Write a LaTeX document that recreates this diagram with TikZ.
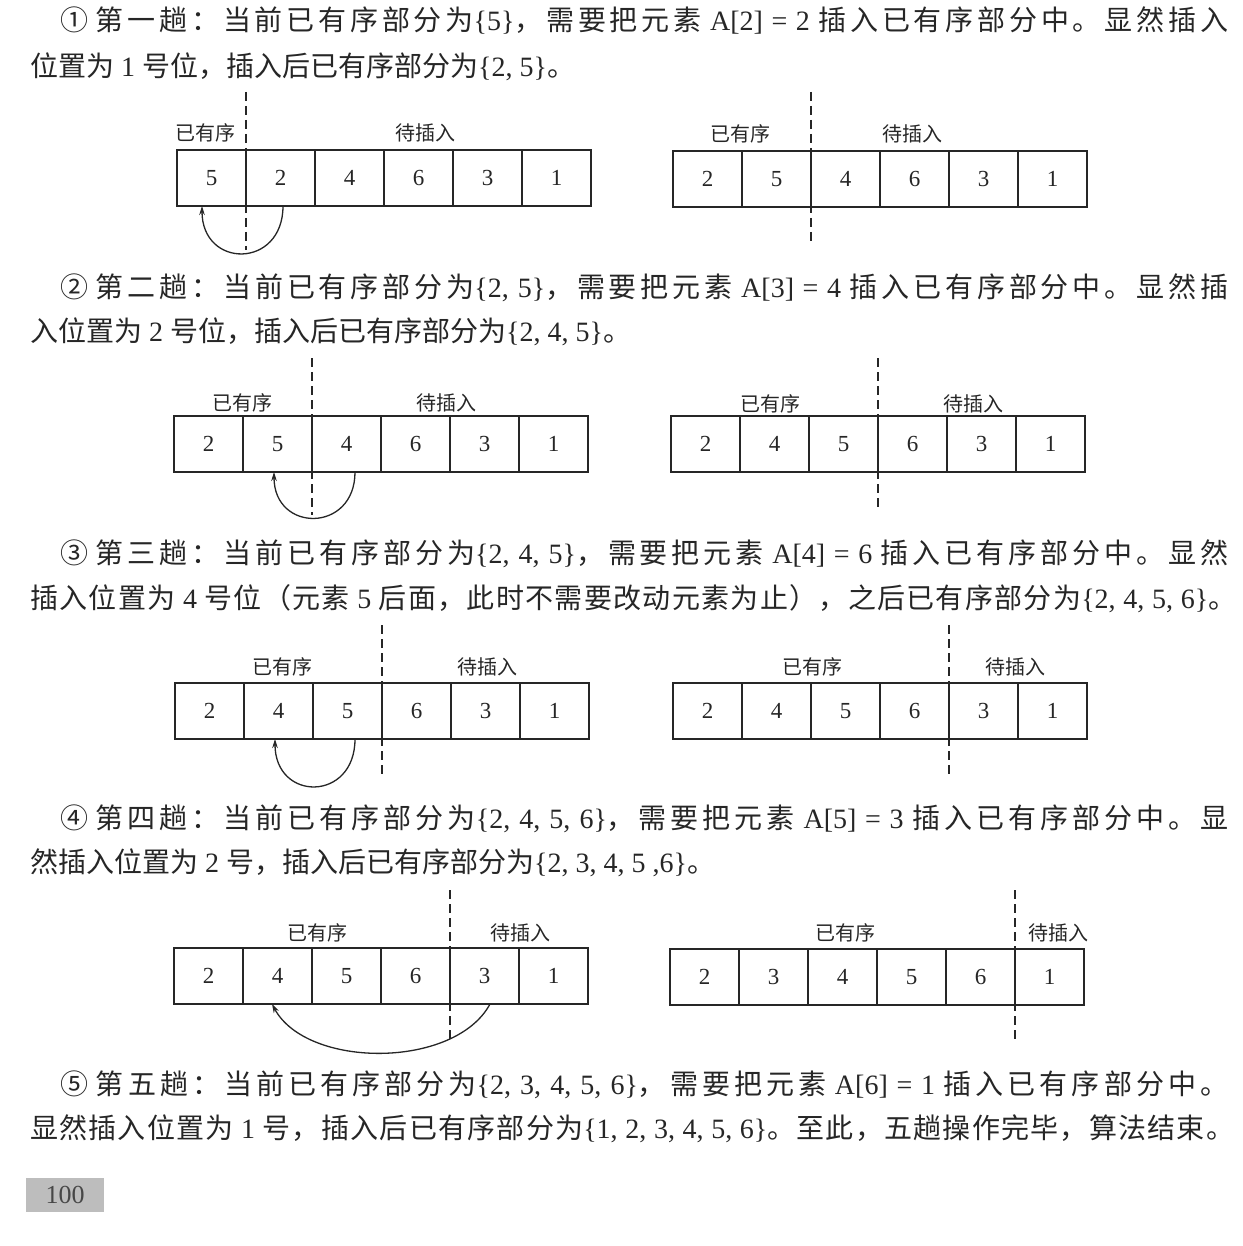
\documentclass[tikz,border=0pt]{standalone}
\usepackage{fontspec}
\setmainfont{Liberation Serif}
\newfontfamily\cj{Noto Sans CJK SC}
\usetikzlibrary{arrows.meta}
\definecolor{ink}{HTML}{262626}
\definecolor{pagegray}{HTML}{BDBDBD}
% inter-character glue for CJK so that lines can be justified
\newcount\cjcnt
\def\setcjrange#1#2{\cjcnt=#1\relax\loop\XeTeXcharclass\cjcnt=7\relax\ifnum\cjcnt<#2\relax\advance\cjcnt by 1\relax\repeat}
\setcjrange{"4E00}{"9FFF}
\setcjrange{"3000}{"303F}
\setcjrange{"FF00}{"FFEF}
\setcjrange{"2460}{"2473}
\XeTeXinterchartoks 7 7 = {\hskip 0pt plus 0.3em minus 0.03em\relax}
\XeTeXinterchartokenstate=1
\newcommand\LT[1]{{\rmfamily#1}}
\newcommand\cellrow[4]{%
  \foreach \v [count=\i] in {#4} {\node[cell] (#1-\i) at ({#2+69*\i-34.5},{#3+28}) {\v};}}
\begin{document}
\begin{tikzpicture}[x=1pt,y=-1pt,
  txt/.style={font=\cj\fontsize{28}{28}\selectfont, text=ink, inner sep=0pt, anchor=base west},
  cell/.style={draw=ink, line width=1.3pt, minimum width=69pt, minimum height=56pt, inner sep=0pt, outer sep=0pt, text=ink, font=\rmfamily\fontsize{23}{23}\selectfont},
  lab/.style={font=\cj\fontsize{20}{20}\selectfont, text=ink, inner sep=0pt},
  divider/.style={draw=ink, line width=1.3pt, dash pattern=on 9pt off 5pt},
  arcarrow/.style={draw=ink, line width=1.3pt, -{Stealth[length=9pt,width=5.5pt]}},
  pagenum/.style={fill=pagegray, minimum width=78pt, minimum height=34pt, inner sep=0pt, text=ink!85, font=\rmfamily\fontsize{26}{26}\selectfont}]
\fill[white] (0,0) rectangle (1242,1246);
\useasboundingbox (0,0) rectangle (1242,1246);

% ---------- text lines ----------
\node[txt] (t1) at (60,30.5) {\hbox to 1168pt{① 第一趟：当前已有序部分为\LT{\{5\}}，需要把元素\LT{ A[2] = 2 }插入已有序部分中。显然插入}};
\node[txt] (t2) at (30,76.5) {位置为\LT{ 1 }号位，插入后已有序部分为\LT{\{2, 5\}}。};
\node[txt] (t3) at (60,297.5) {\hbox to 1168pt{② 第二趟：当前已有序部分为\LT{\{2, 5\}}，需要把元素\LT{ A[3] = 4 }插入已有序部分中。显然插}};
\node[txt] (t4) at (30,341.5) {入位置为\LT{ 2 }号位，插入后已有序部分为\LT{\{2, 4, 5\}}。};
\node[txt] (t5) at (60,563.5) {\hbox to 1168pt{③ 第三趟：当前已有序部分为\LT{\{2, 4, 5\}}，需要把元素\LT{ A[4] = 6 }插入已有序部分中。显然}};
\node[txt] (t6) at (30,608.5) {\hbox to 1206pt{插入位置为\LT{ 4 }号位（元素\LT{ 5 }后面，此时不需要改动元素为止），之后已有序部分为\LT{\{2, 4, 5, 6\}}。}};
\node[txt] (t7) at (60,828.5) {\hbox to 1168pt{④ 第四趟：当前已有序部分为\LT{\{2, 4, 5, 6\}}，需要把元素\LT{ A[5] = 3 }插入已有序部分中。显}};
\node[txt] (t8) at (30,872.5) {然插入位置为\LT{ 2 }号，插入后已有序部分为\LT{\{2, 3, 4, 5 ,6\}}。};
\node[txt] (t9) at (60,1094.5) {\hbox to 1168pt{⑤ 第五趟：当前已有序部分为\LT{\{2, 3, 4, 5, 6\}}，需要把元素\LT{ A[6] = 1 }插入已有序部分中。}};
\node[txt] (t10) at (30,1138.5) {\hbox to 1204pt{显然插入位置为\LT{ 1 }号，插入后已有序部分为\LT{\{1, 2, 3, 4, 5, 6\}}。至此，五趟操作完毕，算法结束。}};

% ---------- row 1 ----------
\cellrow{aL}{177}{150}{5,2,4,6,3,1}
\cellrow{aR}{673}{151}{2,5,4,6,3,1}
\node[lab] (aLs) at (205,133) {已有序};
\node[lab] (aLw) at (425,133) {待插入};
\node[lab] (aRs) at (740,134) {已有序};
\node[lab] (aRw) at (912,134) {待插入};
\coordinate (aLdt) at (246,92); \coordinate (aLdb) at (246,250);
\coordinate (aRdt) at (811,92); \coordinate (aRdb) at (811,245);
\draw[divider] (aLdt) -- (aLdb);
\draw[divider] (aRdt) -- (aRdb);
\draw[arcarrow] ([xshift=2.5pt]aL-2.south) .. controls +(0,63) and +(0,63) .. ([xshift=-9.5pt]aL-1.south);

% ---------- row 2 ----------
\cellrow{bL}{174}{416}{2,5,4,6,3,1}
\cellrow{bR}{671}{416}{2,4,5,6,3,1}
\node[lab] (bLs) at (242,403) {已有序};
\node[lab] (bLw) at (446,403) {待插入};
\node[lab] (bRs) at (770,404) {已有序};
\node[lab] (bRw) at (973,404) {待插入};
\coordinate (bLdt) at (312,358); \coordinate (bLdb) at (312,515);
\coordinate (bRdt) at (878,358); \coordinate (bRdb) at (878,510);
\draw[divider] (bLdt) -- (bLdb);
\draw[divider] (bRdt) -- (bRdb);
\draw[arcarrow] ([xshift=8.5pt]bL-3.south) .. controls +(0,61) and +(0,61) .. ([xshift=-3.5pt]bL-2.south);

% ---------- row 3 ----------
\cellrow{cL}{175}{683}{2,4,5,6,3,1}
\cellrow{cR}{673}{683}{2,4,5,6,3,1}
\node[lab] (cLs) at (282,667) {已有序};
\node[lab] (cLw) at (487,667) {待插入};
\node[lab] (cRs) at (812,667) {已有序};
\node[lab] (cRw) at (1015,667) {待插入};
\coordinate (cLdt) at (382,625); \coordinate (cLdb) at (382,775);
\coordinate (cRdt) at (949,625); \coordinate (cRdb) at (949,775);
\draw[divider] (cLdt) -- (cLdb);
\draw[divider] (cRdt) -- (cRdb);
\draw[arcarrow] ([xshift=7.5pt]cL-3.south) .. controls +(0,63) and +(0,63) .. ([xshift=-3.5pt]cL-2.south);

% ---------- row 4 ----------
\cellrow{dL}{174}{948}{2,4,5,6,3,1}
\cellrow{dR}{670}{949}{2,3,4,5,6,1}
\node[lab] (dLs) at (317,933) {已有序};
\node[lab] (dLw) at (520,933) {待插入};
\node[lab] (dRs) at (845,933) {已有序};
\node[lab] (dRw) at (1058,933) {待插入};
\coordinate (dLdt) at (450,890); \coordinate (dLdb) at (450,1043);
\coordinate (dRdt) at (1015,890); \coordinate (dRdb) at (1015,1042);
\draw[divider] (dLdt) -- (dLdb);
\draw[divider] (dRdt) -- (dRdb);
\draw[arcarrow] ([xshift=5.5pt]dL-5.south) .. controls +(-35,65) and +(35,65) .. ([xshift=-5.5pt]dL-2.south);

% ---------- page number ----------
\node[pagenum] (pg) at (65,1195) {100};
\end{tikzpicture}
\end{document}
